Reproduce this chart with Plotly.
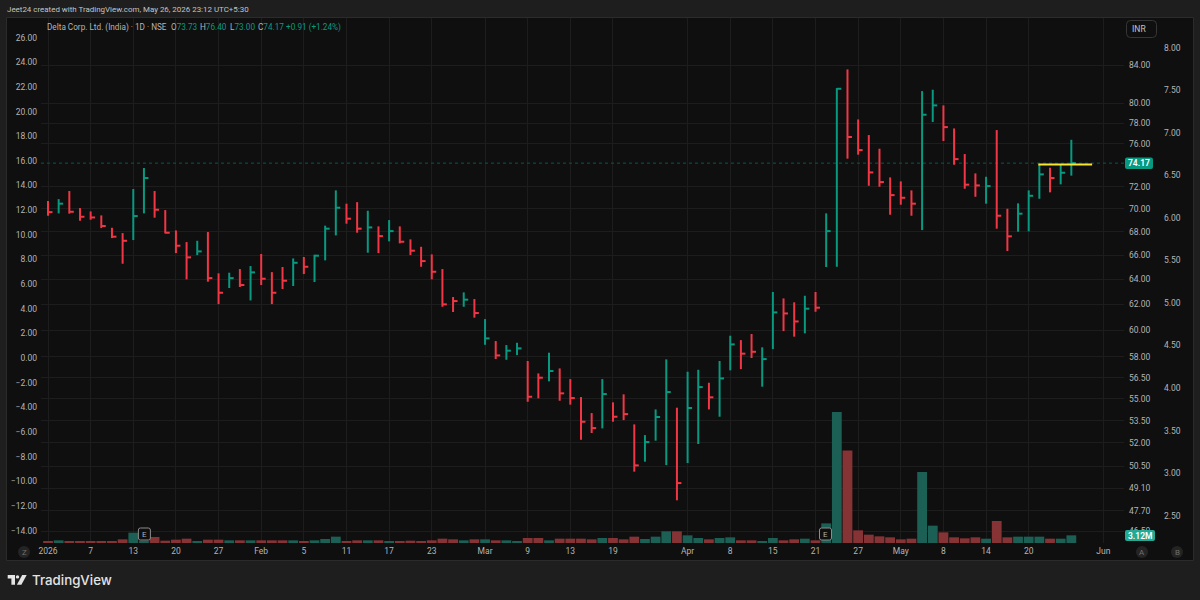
import math
import plotly.graph_objects as go

# Daily bars for Delta Corp. Ltd. (India), NSE
high = [70.68,70.86,71.59,70.06,69.76,69.41,68.33,67.87,71.77,73.71,71.59,69.88,68.1,67.1,67.21,67.96,64.49,64.54,64.84,65.09,
        66.09,64.59,65.01,65.72,65.84,66.03,68.51,71.65,70.45,70.59,69.82,68.45,69.0,68.45,67.33,66.7,66.06,64.84,62.58,62.95,
        62.42,60.85,59.18,58.88,59.05,57.7,56.8,58.31,57.16,56.39,55.12,54.01,56.39,54.75,55.31,53.24,52.52,54.26,57.82,54.38,
        56.92,57.06,56.13,57.7,59.58,59.25,59.71,58.71,62.98,62.47,62.16,62.68,62.98,69.59,81.58,83.54,78.4,76.86,75.54,72.84,
        72.47,71.65,81.27,81.41,79.81,77.51,75.03,73.21,72.9,77.35,70.0,70.48,71.65,74.02,73.74,74.02,76.40]
low = [69.38,69.59,69.56,68.94,69.03,68.3,67.44,65.28,67.27,69.59,69.21,67.84,66.17,64.0,66.0,63.81,62.02,63.3,63.38,62.31,
       63.54,62.02,63.22,63.46,64.43,63.78,65.56,67.67,68.68,67.9,66.2,66.17,67.16,66.99,66.0,65.03,64.0,61.81,61.4,61.81,
       60.96,58.9,57.84,57.79,58.14,54.79,55.03,56.23,54.86,54.59,52.21,52.66,52.97,53.42,53.53,50.14,50.78,52.15,50.56,48.35,
       50.69,51.93,54.26,53.76,57.02,57.11,57.92,55.85,58.58,59.93,59.51,59.76,61.42,65.01,65.03,74.59,74.97,72.07,71.98,69.47,
       70.36,69.38,68.13,78.14,76.28,74.02,71.8,71.07,70.45,68.25,66.34,67.99,68.02,70.89,71.47,72.2,73.00]
close = [69.7,70.45,69.73,69.29,69.23,68.48,67.56,67.21,69.35,72.78,69.91,67.9,66.79,65.81,66.31,64.1,62.92,64.1,63.54,64.57,
         64.05,62.92,63.89,65.36,65.03,65.95,68.25,70.09,69.12,68.25,68.36,67.61,68.04,67.13,66.37,65.5,64.62,62.0,62.26,62.37,
         61.32,59.38,58.11,58.46,58.63,55.14,56.49,56.97,55.38,55.05,53.42,52.99,55.33,53.76,53.94,50.54,52.06,53.74,55.47,49.42,
         54.36,55.82,55.1,56.44,58.93,58.24,58.38,57.84,61.37,61.29,60.67,61.66,61.74,68.04,81.51,76.67,75.41,73.3,72.41,71.22,
         70.98,70.45,78.87,79.81,77.64,74.55,72.17,72.1,72.04,69.38,67.59,69.56,71.16,73.12,72.78,73.27,74.17]
volume = [0.81,1.09,0.81,0.81,0.54,0.81,0.81,1.49,4.2,0.95,2.44,0.95,1.36,1.76,0.81,1.36,1.36,1.09,1.09,1.09,
          1.09,1.09,1.09,1.09,0.81,1.09,1.63,2.58,0.81,1.09,1.09,1.09,0.81,0.54,0.95,0.54,1.09,1.76,1.49,1.09,
          1.49,1.49,1.09,1.09,0.81,2.04,2.04,1.09,1.76,1.76,1.76,1.49,2.04,2.04,1.49,2.58,1.63,2.58,4.75,4.75,
          3.12,2.04,1.49,2.04,2.31,1.09,1.09,0.81,2.04,1.09,1.49,1.76,1.09,8.0,53.3,37.7,5.16,3.39,2.71,2.31,
          1.49,1.76,28.9,7.06,4.34,2.31,1.9,2.31,1.76,8.96,2.31,2.58,2.58,2.58,1.76,1.76,3.12]
rising_sessions = [1,8,9,14,17,19,23,25,26,27,30,32,39,41,43,44,47,52,56,57,58,60,61,63,64,67,68,71,73,74,82,83,88,91,92,93,95,96]

date_ticks = [0,4,8,12,16,20,24,28,32,36,41,45,49,53,60,64,68,72,76,80,84,88,92,99]
date_labels = ["2026","7","13","20","27","Feb","5","11","17","23","Mar","9","13","19","Apr","8","15","21","27","May","8","14","20","Jun"]
price_ticks = [46.5,47.7,49.1,50.5,52,53.5,55,56.5,58,60,62,64,66,68,70,72,76,78,80,84]
left_ticks = list(range(-14, 28, 2))
far_ticks = [2.5,3,3.5,4,4.5,5,5.5,6,6.5,7,7.5,8]

last_price = 74.17
last_volume = "3.12M"
trend_x = [92.9, 97.95]
trend_y = [74.05, 74.05]

UP = "#089981"
DOWN = "#f23645"
UP_VOL = "#1b5f55"
DOWN_VOL = "#853335"
TEXT = "#b4b4b4"
GRID = "#1d1d1d"
FONT = "Roboto"
W, H = 1200, 600


def fx(px):
    return px / W


def fy(py):
    return 1 - py / H


def rounded(x0, y0, x1, y1, r):
    # rounded rectangle path in paper fractions, from pixel corners
    rx, ry = r / W, r / H
    a, b, c, d = fx(x0), fy(y0), fx(x1), fy(y1)
    return (f"M{a+rx},{b} L{c-rx},{b} Q{c},{b} {c},{b-ry} L{c},{d+ry} Q{c},{d} {c-rx},{d} "
            f"L{a+rx},{d} Q{a},{d} {a},{d+ry} L{a},{b-ry} Q{a},{b} {a+rx},{b} Z")


def bar_segments(indices):
    xs, ys = [], []
    for i in indices:
        xs += [i, i, None, i, i + 0.42, None]
        ys += [low[i], high[i], None, close[i], close[i], None]
    return xs, ys


sessions = list(range(len(close)))
up_idx = [i for i in sessions if i in rising_sessions]
down_idx = [i for i in sessions if i not in rising_sessions]

fig = go.Figure()
fig.add_trace(go.Bar(x=sessions, y=volume, width=0.92, yaxis="y",
                     marker=dict(color=[UP_VOL if i in rising_sessions else DOWN_VOL for i in sessions], line=dict(width=0)),
                     hoverinfo="skip"))
# last-price dotted line, then the high-low-close bars
fig.add_trace(go.Scatter(x=[-0.66, 100.94], y=[last_price, last_price], yaxis="y2", mode="lines",
                         line=dict(color="#0a5a4b", width=1, dash="dot"), hoverinfo="skip"))
for idx, color in ((down_idx, DOWN), (up_idx, UP)):
    xs, ys = bar_segments(idx)
    fig.add_trace(go.Scatter(x=xs, y=ys, yaxis="y2", mode="lines", line=dict(color=color, width=2),
                             connectgaps=False, hoverinfo="skip"))
fig.add_trace(go.Scatter(x=trend_x, y=trend_y, yaxis="y2", mode="lines",
                         line=dict(color="#f7e733", width=2), hoverinfo="skip"))
# carrier traces so the two reference scales are laid out
fig.add_trace(go.Scatter(x=[0] * len(left_ticks), y=left_ticks, yaxis="y3", mode="none", hoverinfo="skip"))
fig.add_trace(go.Scatter(x=[0] * len(far_ticks), y=far_ticks, yaxis="y4", mode="none", hoverinfo="skip"))

domain_x = [fx(41), fx(1124)]
domain_y = [fy(543), fy(18)]
tickfont = dict(family=FONT, size=8.5, color=TEXT)
axis_common = dict(domain=domain_y, automargin=False, showline=False, zeroline=False, ticks="", tickfont=tickfont)

shapes = [
    dict(type="rect", xref="paper", yref="paper", x0=fx(6.5), x1=fx(1193.5), y0=fy(560.5), y1=fy(17.5),
         fillcolor="#0f0f0f", line=dict(color="#2b2b2b", width=1), layer="below"),
    dict(type="path", xref="paper", yref="paper", path=rounded(1125, 157.5, 1153, 169, 2),
         fillcolor=UP, line=dict(width=0)),
    dict(type="path", xref="paper", yref="paper", path=rounded(1125, 530, 1155, 541, 2),
         fillcolor="#22ab94", line=dict(width=0)),
    dict(type="path", xref="paper", yref="paper", path=rounded(1126.5, 20.5, 1156.5, 37.5, 4),
         fillcolor="#0f0f0f", line=dict(color="#363636", width=1)),
]
for cx, cy in ((24, 552), (1142, 552), (1177, 552)):
    shapes.append(dict(type="circle", xref="paper", yref="paper", x0=fx(cx - 6), x1=fx(cx + 6), y0=fy(cy + 6), y1=fy(cy - 6),
                       fillcolor="#242424", line=dict(width=0)))
for cx in (144.4, 825.5):
    shapes.append(dict(type="path", xref="paper", yref="paper", path=rounded(cx - 6, 528, cx + 6, 540, 2),
                       fillcolor="#0f0f0f", line=dict(color="#8c8c8c", width=1)))
# TradingView mark
shapes += [
    dict(type="path", xref="paper", yref="paper",
         path=f"M{fx(7.7)},{fy(575)} L{fx(15)},{fy(575)} L{fx(15)},{fy(584.8)} L{fx(11.4)},{fy(584.8)} L{fx(11.4)},{fy(578.4)} L{fx(7.7)},{fy(578.4)} Z",
         fillcolor="#e4e4e4", line=dict(width=0)),
    dict(type="circle", xref="paper", yref="paper", x0=fx(15.8), x1=fx(19.2), y0=fy(578.6), y1=fy(575.2),
         fillcolor="#e4e4e4", line=dict(width=0)),
    dict(type="path", xref="paper", yref="paper",
         path=f"M{fx(22.2)},{fy(575)} L{fx(26.7)},{fy(575)} L{fx(21.4)},{fy(584.8)} L{fx(16.9)},{fy(584.8)} Z",
         fillcolor="#e4e4e4", line=dict(width=0)),
]


def label(text, px, py, color=TEXT, size=8.2, anchor="left", family=FONT, weight=None):
    font = dict(family=family, size=size, color=color)
    if weight:
        font["weight"] = weight
    return dict(text=text, xref="paper", yref="paper", x=fx(px), y=fy(py), xanchor=anchor, yanchor="middle",
                showarrow=False, font=font, borderpad=0, borderwidth=0)


annotations = [
    label("Jeet24 created with TradingView.com, May 26, 2026 23:12 UTC+5:30", 7, 9.5, color="#c4c4c4", size=7.95),
    label("Delta Corp. Ltd. (India) · 1D · NSE", 47, 27),
    label(f"O<span style='color:{UP}'>73.73</span>", 171, 27),
    label(f"H<span style='color:{UP}'>76.40</span>", 200, 27),
    label(f"L<span style='color:{UP}'>73.00</span>", 230, 27),
    label(f"C<span style='color:{UP}'>74.17</span>", 258, 27),
    label("+0.91 (+1.24%)", 286, 27, color=UP),
    label("74.17", 1139, 163.5, color="#ffffff", anchor="center", size=8.5, weight=600),
    label(last_volume, 1140, 535.5, color="#ffffff", anchor="center", size=8.5, weight=600),
    label("INR", 1138.5, 29, color="#c4c4c4", anchor="center", size=8.5),
    label("E", 144.4, 534, color="#b0b0b0", anchor="center", size=8),
    label("E", 825.5, 534, color="#b0b0b0", anchor="center", size=8),
    label("Z", 24, 552, color="#707070", anchor="center", size=8),
    label("A", 1142, 552, color="#707070", anchor="center", size=8),
    label("B", 1177, 552, color="#707070", anchor="center", size=8),
    label("TradingView", 32, 580, color="#e4e4e4", size=13.3, family="Inter", weight=500),
]

fig.update_layout(
    width=W, height=H, margin=dict(l=0, r=0, t=0, b=0), autosize=False,
    paper_bgcolor="#1e1e1e", plot_bgcolor="rgba(0,0,0,0)", showlegend=False, barmode="overlay",
    font=dict(family=FONT, color=TEXT),
    shapes=shapes, annotations=annotations,
    xaxis=dict(domain=domain_x, range=[-0.657, 100.94], tickmode="array", tickvals=date_ticks, ticktext=date_labels,
               automargin=False, showgrid=True, gridcolor=GRID, gridwidth=1, zeroline=False, showline=False, ticks="",
               tickfont=tickfont, ticklabelstandoff=1, anchor="y"),
    yaxis=dict(range=[0, 213.7], visible=False, domain=domain_y, automargin=False),
    yaxis2=dict(type="log", range=[math.log10(45.8), math.log10(89.17)], overlaying="y", anchor="free",
                position=fx(1128), side="right", tickmode="array", tickvals=price_ticks,
                ticktext=[f"{v:.2f}" for v in price_ticks], showgrid=True, gridcolor=GRID, gridwidth=1, **axis_common),
    yaxis3=dict(range=[-15.01, 27.59], overlaying="y", anchor="free", position=fx(37), side="left", tickmode="array",
                tickvals=left_ticks, ticktext=[f"{v:.2f}".replace("-", "−") for v in left_ticks], showgrid=False, **axis_common),
    yaxis4=dict(range=[2.1786, 8.348], overlaying="y", anchor="free", position=fx(1163), side="right", tickmode="array",
                tickvals=far_ticks, ticktext=[f"{v:.2f}" for v in far_ticks], showgrid=False, **axis_common),
)

fig.write_html("out.html")
